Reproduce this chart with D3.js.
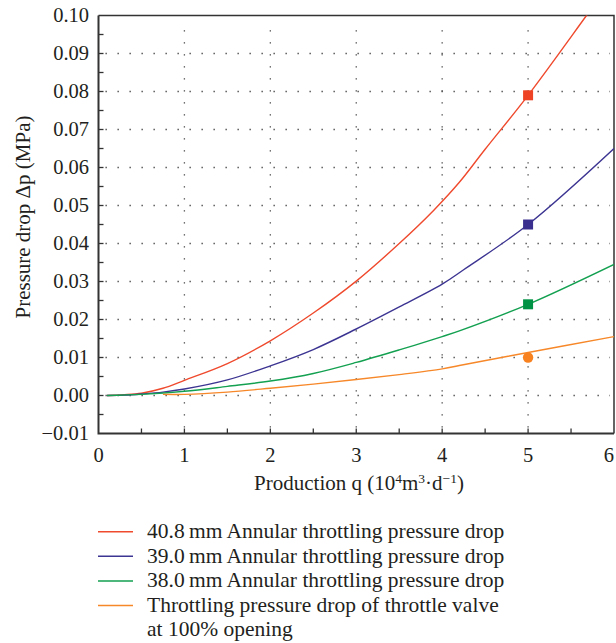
<!DOCTYPE html>
<html>
<head>
<meta charset="utf-8">
<script src="https://cdn.jsdelivr.net/npm/d3@7"></script>
<style>
  body { margin: 0; background: #fff; }
</style>
</head>
<body>
<svg width="616" height="643"></svg>
<script>
// data
const xTicks = [0, 1, 2, 3, 4, 5, 6];
const yTicks = [-0.01, 0, 0.01, 0.02, 0.03, 0.04, 0.05, 0.06, 0.07, 0.08, 0.09, 0.10];

const red = [[0.1, 0], [0.3, 0.0002], [0.5, 0.0006], [0.75, 0.0019], [1, 0.0040], [1.5, 0.0084], [2, 0.0144], [2.5, 0.0217], [3, 0.0301], [3.5, 0.0400], [3.9, 0.0487], [4.2, 0.0561], [4.5, 0.0648], [5, 0.079], [5.68, 0.100], [6, 0.110]];
const blue = [[0.1, 0], [0.3, 0.0001], [0.5, 0.0004], [0.75, 0.0009], [1, 0.0017], [1.5, 0.0041], [2, 0.0078], [2.5, 0.0121], [3, 0.0175], [3.5, 0.0233], [4, 0.0293], [4.25, 0.0331], [5, 0.045], [6, 0.065]];
const green = [[0.1, 0], [0.5, 0.0003], [1, 0.0011], [1.5, 0.0024], [2, 0.0038], [2.5, 0.0058], [3, 0.0087], [3.5, 0.0120], [4, 0.0155], [4.2, 0.0170], [5, 0.0240], [6, 0.0345]];
const orange = [[0.75, 0.0003], [1, 0.0003], [1.5, 0.0009], [2, 0.0019], [2.5, 0.0030], [3, 0.0042], [3.5, 0.0055], [4, 0.0070], [4.2, 0.0079], [5, 0.0113], [6, 0.0155]];

const markers = [
  { x: 5, y: 0.079, shape: "square", color: "#ee4425" },
  { x: 5, y: 0.045, shape: "square", color: "#3a2f8e" },
  { x: 5, y: 0.024, shape: "square", color: "#009245" },
  { x: 5, y: 0.010, shape: "circle", color: "#f7821f" }
];

const series = [
  { name: "40.8\u2009mm Annular throttling pressure drop", color: "#ef4a2d", values: red },
  { name: "39.0\u2009mm Annular throttling pressure drop", color: "#3d3592", values: blue },
  { name: "38.0\u2009mm Annular throttling pressure drop", color: "#13a050", values: green },
  { name: ["Throttling pressure drop of throttle valve", "at 100% opening"], color: "#f7882a", values: orange }
];

const FONT = "Liberation Serif";
const INK = "#231f20";

const svg = d3.select("svg");
const W = 616;
const mL = 98.5, mR = 614, mT = 15.5, mB = 433.5;

const x = d3.scaleLinear().domain([0, 6]).range([mL, mR]);
const y = d3.scaleLinear().domain([-0.01, 0.10]).range([mB, mT]);

svg.append("clipPath").attr("id", "plot")
  .append("rect")
  .attr("x", mL).attr("y", mT)
  .attr("width", mR - mL).attr("height", mB - mT);

// dotted grid
const grid = svg.append("g")
  .attr("stroke", "#444")
  .attr("stroke-width", 1.3)
  .attr("stroke-dasharray", "1.3,10.7");

grid.selectAll(".gx")
  .data(xTicks.filter(d => d > 0 && d < 6))
  .join("line")
  .attr("x1", d => x(d)).attr("x2", d => x(d))
  .attr("y1", mB - 6).attr("y2", mT + 4);

grid.selectAll(".gy")
  .data(yTicks.filter(d => d > -0.01 && d < 0.099))
  .join("line")
  .attr("y1", d => y(d)).attr("y2", d => y(d))
  .attr("x1", mL + 7).attr("x2", mR - 4);

// inward ticks
const tk = svg.append("g").attr("stroke", "#333").attr("stroke-width", 1.3);
tk.selectAll(".ty")
  .data(d3.range(-0.005, 0.1, 0.005))
  .join("line")
  .attr("x1", mL).attr("x2", mL + 5)
  .attr("y1", d => y(d)).attr("y2", d => y(d));
tk.selectAll(".tx")
  .data(d3.range(0.5, 6, 0.5))
  .join("line")
  .attr("y1", mB).attr("y2", mB - 5)
  .attr("x1", d => x(d)).attr("x2", d => x(d));

// frame
svg.append("path")
  .attr("d", `M${mL},${mT}H${mR}V${mB}`)
  .attr("fill", "none").attr("stroke", "#333").attr("stroke-width", 1.5);
svg.append("path")
  .attr("d", `M${mL},${mT}V${mB}H${mR}`)
  .attr("fill", "none").attr("stroke", "#333").attr("stroke-width", 2);

// tick labels
svg.append("g").selectAll("text")
  .data(yTicks)
  .join("text")
  .attr("font-family", FONT).attr("fill", INK)
  .attr("font-size", 20.5)
  .attr("x", mL - 9.5)
  .attr("y", d => y(d) + 6.5)
  .attr("text-anchor", "end")
  .text(d3.format(".2f"));

svg.append("g").selectAll("text")
  .data(xTicks)
  .join("text")
  .attr("font-family", FONT).attr("fill", INK)
  .attr("font-size", 20.5)
  .attr("x", d => Math.min(x(d), W - 1))
  .attr("y", 462)
  .attr("text-anchor", d => x(d) + 6 > W ? "end" : "middle")
  .text(d => d);

// axis titles
const xt = svg.append("text")
  .attr("font-family", FONT).attr("fill", INK)
  .attr("font-size", 21)
  .attr("x", 359).attr("y", 490)
  .attr("text-anchor", "middle");
xt.append("tspan").text("Production q (10");
xt.append("tspan").attr("dy", -7).attr("font-size", 13.5).text("4");
xt.append("tspan").attr("dy", 7).text("m");
xt.append("tspan").attr("dy", -7).attr("font-size", 13.5).text("3");
xt.append("tspan").attr("dy", 7).text("\u00b7d");
xt.append("tspan").attr("dy", -7).attr("font-size", 13.5).text("\u22121");
xt.append("tspan").attr("dy", 7).text(")");

svg.append("text")
  .attr("font-family", FONT).attr("fill", INK)
  .attr("font-size", 21)
  .attr("transform", "translate(30,217) rotate(-90)")
  .attr("text-anchor", "middle")
  .text("Pressure drop \u0394p (MPa)");

// curves
const line = d3.line()
  .x(d => x(d[0]))
  .y(d => y(d[1]))
  .curve(d3.curveCatmullRom.alpha(0.5));

svg.append("g").attr("clip-path", "url(#plot)")
  .selectAll("path")
  .data(series)
  .join("path")
  .attr("d", d => line(d.values))
  .attr("fill", "none")
  .attr("stroke", d => d.color)
  .attr("stroke-width", 1.4);

// markers at q = 5
svg.append("g").selectAll("path")
  .data(markers)
  .join("path")
  .attr("transform", d => `translate(${x(d.x)},${y(d.y)})`)
  .attr("d", d => d.shape === "square"
    ? d3.symbol(d3.symbolSquare, 100)()
    : d3.symbol(d3.symbolCircle, 85)())
  .attr("fill", d => d.color);

// legend
const lg = svg.append("g").attr("transform", "translate(98,531.7)");
const row = lg.selectAll("g")
  .data(series)
  .join("g")
  .attr("transform", (d, i) => `translate(0,${i * 24.6})`);
row.append("line")
  .attr("x1", 0).attr("x2", 35)
  .attr("stroke", d => d.color)
  .attr("stroke-width", 1.5);
row.append("text")
  .attr("font-family", FONT).attr("fill", INK)
  .attr("font-size", 21.5)
  .attr("x", 49).attr("y", 6.5)
  .each(function(d) {
    const names = Array.isArray(d.name) ? d.name : [d.name];
    d3.select(this).selectAll("tspan")
      .data(names)
      .join("tspan")
      .attr("x", 49)
      .attr("dy", (n, i) => i === 0 ? 0 : 24.4)
      .text(n => n);
  });
</script>
</body>
</html>
